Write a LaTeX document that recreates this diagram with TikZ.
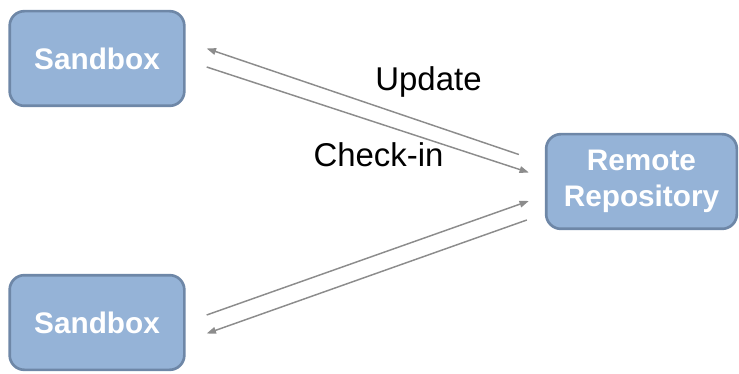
\documentclass[tikz,border=0pt]{standalone}
\usepackage{fontspec}
\setmainfont{Liberation Sans}
\usetikzlibrary{calc,arrows.meta}

\definecolor{BoxFill}{HTML}{95B3D7}
\definecolor{BoxEdge}{HTML}{6E87A7}
\definecolor{FlowGray}{HTML}{8C8C8C}

\tikzset{
  repobox/.style={draw=BoxEdge, line width=2pt, fill=BoxFill, rounded corners=11pt,
    text=white, font=\fontsize{22.3}{26.5}\selectfont\bfseries, align=center,
    minimum width=131pt, minimum height=71pt, inner sep=0pt},
  flow/.style={draw=FlowGray, line width=1.1pt, -{Triangle[length=7pt,width=5pt]}},
  flowlabel/.style={font=\fontsize{24.7}{29}\selectfont, text=black}
}

\begin{document}
\begin{tikzpicture}[x=0.75pt, y=-0.75pt]
  % ===== Marco =====
  \useasboundingbox (0,0) rectangle (739,374);

  % ===== Cajas =====
  \node[repobox] (sbTop) at (97,58.5) {Sandbox};
  \node[repobox] (sbBottom) at (97,322.5) {Sandbox};
  \node[repobox, minimum width=143pt] (remote) at (641.5,181.5) {Remote\\Repository};

  % ===== Flechas superiores =====
  \draw[flow] ($(remote.west)+(-26,-27)$) -- ($(sbTop.east)+(21,-10)$);
  \draw[flow] ($(sbTop.east)+(21,8.5)$) -- ($(remote.west)+(-16,-9)$);

  % ===== Flechas inferiores =====
  \draw[flow] ($(sbBottom.east)+(21,-7.5)$) -- ($(remote.west)+(-16,19.5)$);
  \draw[flow] ($(remote.west)+(-18,38.5)$) -- ($(sbBottom.east)+(21,11)$);

  % ===== Etiquetas =====
  \node[flowlabel] (lblUpdate) at (428.5,82) {Update};
  \node[flowlabel] (lblCheckin) at (378.5,155) {Check-in};
\end{tikzpicture}
\end{document}
